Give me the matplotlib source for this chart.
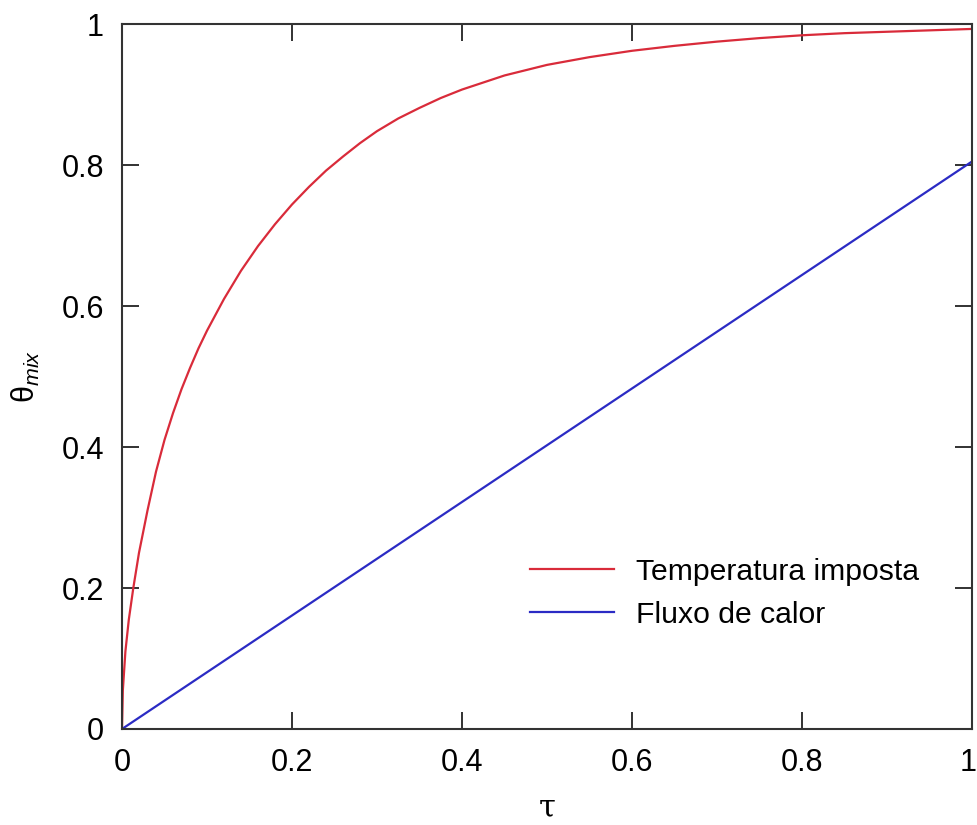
import numpy as np
import matplotlib
matplotlib.use("Agg")
import matplotlib.pyplot as plt
import matplotlib.transforms as mtransforms

plt.rcParams['font.family'] = ['Liberation Sans', 'DejaVu Sans']
plt.rcParams['mathtext.fontset'] = 'custom'
plt.rcParams['mathtext.rm'] = 'Liberation Sans'
plt.rcParams['mathtext.it'] = 'Liberation Sans:italic'

# imposed wall temperature: mixing-cup temperature vs dimensionless time
tau_temp = [0, 0.001, 0.004, 0.008, 0.0133, 0.02, 0.03, 0.04, 0.05, 0.06,
            0.07, 0.08, 0.09, 0.1, 0.12, 0.14, 0.16, 0.18, 0.2, 0.22,
            0.24, 0.26, 0.28, 0.3, 0.325, 0.35, 0.375, 0.4, 0.45, 0.5,
            0.55, 0.6, 0.65, 0.7, 0.75, 0.8, 0.85, 0.9, 0.95, 1.0]
theta_temp = [0, 0.055, 0.11, 0.155, 0.2, 0.25, 0.31, 0.365, 0.41, 0.448,
              0.482, 0.512, 0.54, 0.565, 0.61, 0.65, 0.685, 0.716, 0.744, 0.769,
              0.792, 0.812, 0.831, 0.848, 0.866, 0.881, 0.895, 0.907, 0.927, 0.942,
              0.953, 0.962, 0.969, 0.975, 0.98, 0.984, 0.987, 0.989, 0.991, 0.993]

# imposed heat flux: linear rise
tau_flux = [0, 1.0]
theta_flux = [0, 0.805]

labels = ['Temperatura imposta', 'Fluxo de calor']
ticks = [0, 0.2, 0.4, 0.6, 0.8, 1]
tick_labels = ['0', '0.2', '0.4', '0.6', '0.8', '1']

fig = plt.figure(figsize=(9.77, 8.25), dpi=100)
ax = fig.add_axes([122 / 977, 1 - 729 / 825, 850 / 977, 705 / 825])

ax.plot(tau_temp, theta_temp, color='#d92b3a', lw=1.6, label=labels[0])
ax.plot(tau_flux, theta_flux, color='#2b2bc4', lw=1.6, label=labels[1])

ax.set_xlim(0, 1)
ax.set_ylim(0, 1)
ax.set_xticks(ticks)
ax.set_yticks(ticks)
ax.set_xticklabels(tick_labels)
ax.set_yticklabels(tick_labels)
ax.tick_params(direction='in', length=12, width=1.3, color='#222222',
               labelcolor='black', labelsize=22, top=True, right=True)
ax.tick_params(axis='x', pad=14)
ax.tick_params(axis='y', pad=13)
for s in ax.spines.values():
    s.set_linewidth(1.5)
    s.set_color('#333333')

# keep the last x label inside the figure edge
last = ax.get_xticklabels()[-1]
last.set_transform(last.get_transform() +
                   mtransforms.ScaledTranslation(-4 / 100, 0, fig.dpi_scale_trans))

ax.set_xlabel('τ', fontsize=22, family=['DejaVu Serif'], labelpad=10)
ax.set_ylabel(r'θ$_{mix}$', fontsize=22, labelpad=14)

ax.legend(loc='upper left', bbox_to_anchor=(0.48, 0.243), frameon=False,
          fontsize=21.7, handlelength=2.8, handletextpad=0.72, labelspacing=0.5,
          borderpad=0, borderaxespad=0)

fig.savefig('out.png', dpi=100, facecolor='white')
